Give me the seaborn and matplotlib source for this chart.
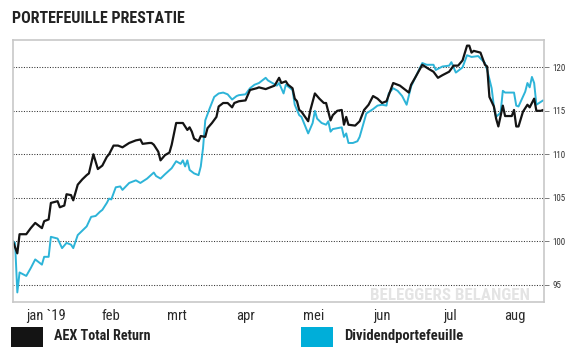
import numpy as np
import pandas as pd
import matplotlib
matplotlib.use("Agg")
import matplotlib.pyplot as plt
import matplotlib.dates as mdates
from matplotlib.patches import Rectangle
import seaborn as sns

# ---------------- data ----------------
series_names = ["AEX Total Return", "Dividendportefeuille"]
month_labels = ["jan `19", "feb", "mrt", "apr", "mei", "jun", "jul", "aug"]
y_ticks = [95, 100, 105, 110, 115, 120]
base_date = "2019-01-01"

# day offsets from 1 Jan 2019
aex_day = [1, 3, 4, 7, 9, 11, 14, 15, 17, 18, 21, 22, 24, 25, 27, 28, 30, 32, 34, 35,
           37, 39, 41, 43, 44, 46, 47, 48, 50, 53, 56, 58, 59, 62, 63, 64, 66, 67, 69, 71,
           72, 74, 77, 79, 80, 81, 82, 84, 85, 87, 88, 90, 92, 93, 95, 97, 99, 100, 102, 105,
           107, 110, 111, 114, 117, 118, 120, 121, 123, 124, 126, 127, 128, 129, 130, 133, 134, 136, 138, 140,
           141, 143, 144, 146, 148, 149, 150, 151, 154, 156, 158, 160, 162, 164, 166, 168, 170, 171, 174, 176,
           178, 179, 181, 184, 187, 189, 191, 193, 196, 198, 200, 202, 204, 205, 206, 207, 210, 212, 213, 214,
           216, 217, 218, 220, 221, 224, 225, 226, 227, 229, 231, 232, 234, 235, 237, 238]
aex_val = [100.0, 98.6, 100.8, 100.8, 101.5, 102.1, 101.5, 102.3, 102.5, 104.4, 104.6, 103.9, 104.1, 105.4, 105.3, 104.7, 106.5, 107.1, 107.6, 107.8,
           110.0, 108.3, 108.7, 109.7, 110.0, 111.0, 111.0, 111.0, 110.8, 111.3, 111.6, 111.7, 111.2, 111.3, 111.3, 111.1, 110.3, 109.3, 109.9, 110.2,
           111.1, 113.6, 113.6, 112.8, 113.1, 112.6, 111.8, 111.5, 112.1, 112.0, 113.0, 113.6, 114.3, 115.5, 115.9, 115.9, 115.4, 115.9, 116.1, 116.2,
           117.4, 117.6, 117.7, 117.5, 117.8, 117.9, 118.8, 118.2, 118.4, 118.0, 117.6, 116.4, 116.1, 115.1, 114.9, 113.8, 115.1, 117.0, 116.4, 115.9,
           115.9, 113.9, 114.5, 115.0, 115.1, 113.4, 114.3, 113.4, 113.3, 113.8, 115.1, 115.7, 116.7, 116.4, 115.9, 116.1, 117.5, 118.2, 117.9, 117.5,
           117.1, 118.0, 118.9, 120.3, 119.8, 119.5, 118.8, 119.1, 119.5, 120.2, 120.2, 120.8, 122.5, 122.5, 121.7, 121.9, 121.7, 120.3, 120.1, 116.6,
           115.5, 114.1, 113.2, 115.6, 114.4, 114.4, 115.1, 113.2, 113.2, 114.9, 115.7, 115.4, 116.4, 115.0, 115.0, 115.1]

div_day = [1, 2, 3, 4, 7, 9, 11, 14, 15, 17, 18, 21, 23, 25, 27, 28, 30, 32, 34, 36,
           38, 40, 41, 43, 44, 45, 47, 49, 50, 53, 56, 58, 61, 64, 65, 67, 69, 72, 74, 76,
           77, 78, 79, 80, 82, 84, 85, 86, 87, 89, 91, 93, 95, 97, 99, 101, 102, 105, 107, 109,
           111, 114, 115, 117, 119, 120, 122, 123, 126, 127, 129, 130, 133, 135, 136, 137, 139, 141, 142, 143,
           144, 148, 149, 150, 151, 153, 155, 156, 158, 159, 162, 164, 166, 168, 169, 171, 173, 175, 177, 179,
           181, 184, 186, 189, 190, 193, 196, 197, 199, 202, 204, 206, 209, 212, 213, 215, 216, 217, 219, 220,
           221, 225, 226, 227, 230, 231, 232, 233, 234, 235, 238]
div_val = [100.0, 99.8, 94.1, 96.4, 96.0, 96.9, 97.9, 97.3, 98.2, 98.2, 100.5, 100.3, 99.2, 99.8, 99.6, 99.2, 100.7, 101.2, 101.7, 102.8,
           102.9, 103.4, 103.6, 104.4, 104.9, 104.8, 106.2, 106.3, 105.9, 106.7, 107.0, 106.7, 107.2, 107.9, 107.5, 107.2, 107.7, 108.4, 109.2, 108.9,
           109.3, 108.6, 109.3, 108.2, 107.8, 107.6, 108.6, 110.7, 113.9, 115.3, 116.6, 117.0, 117.1, 116.9, 116.3, 116.7, 116.8, 116.9, 117.6, 118.0,
           118.2, 118.8, 118.5, 118.2, 117.9, 118.2, 117.0, 118.0, 117.4, 115.7, 114.5, 114.3, 112.4, 113.6, 115.0, 114.1, 113.6, 113.4, 113.8, 112.6,
           112.9, 113.1, 112.0, 112.4, 111.3, 111.3, 111.5, 112.0, 113.8, 114.7, 115.2, 115.6, 115.7, 115.6, 117.0, 117.6, 117.3, 116.7, 115.7, 117.8,
           118.9, 120.5, 120.3, 120.3, 119.7, 120.1, 120.2, 120.6, 119.4, 120.0, 121.4, 121.2, 121.3, 120.5, 119.7, 117.6, 115.5, 114.3, 114.8, 117.3,
           117.1, 117.1, 115.6, 115.5, 117.2, 118.2, 117.7, 118.9, 118.2, 115.7, 116.2]

# ---------------- frame ----------------
base = pd.Timestamp(base_date)
df = pd.concat([
    pd.DataFrame({"date": base + pd.to_timedelta(aex_day, unit="D"),
                  "value": aex_val, "series": series_names[0]}),
    pd.DataFrame({"date": base + pd.to_timedelta(div_day, unit="D"),
                  "value": div_val, "series": series_names[1]}),
], ignore_index=True)

sns.set_style("white")
narrow = ["Roboto Condensed", "DejaVu Sans"]
plt.rcParams["font.family"] = narrow

W, H = 578, 347
fig = plt.figure(figsize=(W / 100, H / 100), dpi=100)
ax = fig.add_axes([13 / W, 1 - 302 / H, 531 / W, 262 / H])

black = "#141414"
cyan = "#2db4d8"
sns.lineplot(data=df[df.series == series_names[1]], x="date", y="value", color=cyan,
             estimator=None, linewidth=1.4, ax=ax)
sns.lineplot(data=df[df.series == series_names[0]], x="date", y="value", color=black,
             estimator=None, linewidth=1.6, ax=ax)

# axes limits
x0 = mdates.date2num(base + pd.Timedelta(days=1.07))
x1 = mdates.date2num(base + pd.Timedelta(days=238.4))
ax.set_xlim(x0, x1)
ax.set_ylim(93.0, 123.15)

# month separators and centred labels
bounds = [mdates.date2num(d) for d in pd.date_range("2019-02-01", "2019-08-01", freq="MS")]
edges = [x0] + bounds + [x1]
mids = [(a + b) / 2 for a, b in zip(edges[:-1], edges[1:])]
ax.set_xticks(bounds)
ax.set_xticklabels([])
ax.set_xticks(mids, minor=True)
ax.set_xticklabels(month_labels, minor=True)
ax.tick_params(axis="x", which="major", length=14.5, width=0.9, color="#b4b4b4", direction="out")
ax.tick_params(axis="x", which="minor", length=0, pad=5, labelsize=10.5, labelcolor="#2a2a2a")
ax.set_xlabel("")

ax.yaxis.tick_right()
ax.set_yticks(y_ticks)
ax.set_yticklabels([str(t) for t in y_ticks])
ax.tick_params(axis="y", length=3.5, width=0.6, color="#666666", pad=2.5,
               labelsize=6.5, labelcolor="#333333")
ax.set_ylabel("")
ax.grid(axis="y", linestyle=(0, (1, 1.5)), color="#333333", linewidth=0.75)
ax.grid(axis="x", visible=False)
ax.set_axisbelow(True)

for s in ax.spines.values():
    s.set_visible(True)
    s.set_color("#c8c8c8")
    s.set_linewidth(1.2)

# watermark
ax.text((530 - 13) / 531, (302 - 300) / 262, "BELEGGERS BELANGEN", transform=ax.transAxes,
        ha="right", va="baseline", fontsize=12.2, fontweight="bold", family=narrow,
        color="#e4e4e4", zorder=0)

# title
fig.text(12 / W, 1 - 22.7 / H, "PORTEFEUILLE PRESTATIE", ha="left", va="baseline",
         fontsize=11.5, fontweight="bold", family=narrow, color="#222222")

# legend
fig.patches.append(Rectangle((11 / W, 0), 32 / W, 20 / H, transform=fig.transFigure,
                             facecolor=black, edgecolor="none"))
fig.text(54 / W, 1 - 340 / H, series_names[0], ha="left", va="baseline",
         fontsize=10.2, fontweight="bold", family=narrow, color="#222222")
fig.patches.append(Rectangle((301 / W, 0), 32 / W, 20 / H, transform=fig.transFigure,
                             facecolor="#00aed9", edgecolor="none"))
fig.text(344 / W, 1 - 340 / H, series_names[1], ha="left", va="baseline",
         fontsize=10.5, fontweight="bold", family=narrow, color="#222222")

fig.savefig("out.png", dpi=100)
